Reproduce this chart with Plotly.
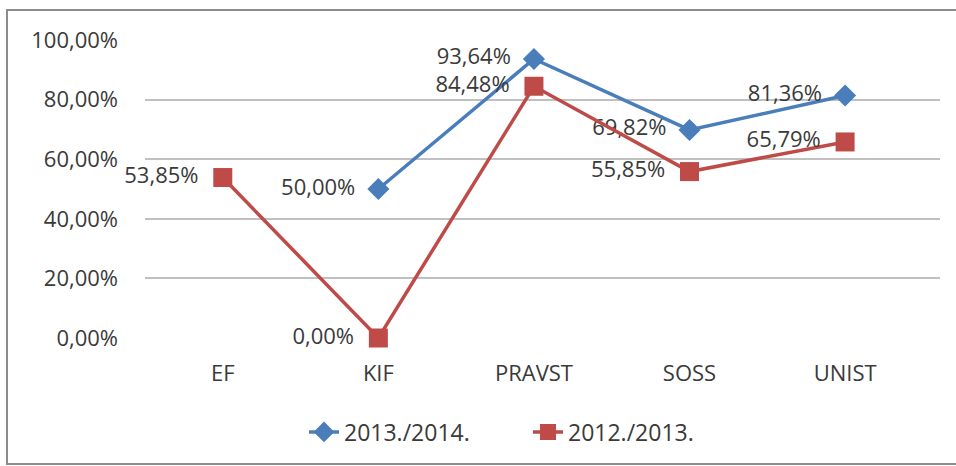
import plotly.graph_objects as go

categories = ["EF", "KIF", "PRAVST", "SOSS", "UNIST"]
series_2013_2014 = [None, 50.00, 93.64, 69.82, 81.36]
series_2012_2013 = [53.85, 0.00, 84.48, 55.85, 65.79]
y_tick_vals = [0, 20, 40, 60, 80, 100]
y_tick_text = ["0,00%", "20,00%", "40,00%", "60,00%", "80,00%", "100,00%"]

def fmt(v):
    return "" if v is None else f"{v:.2f}".replace(".", ",") + "%\u00a0\u00a0"

FONT = "Open Sans"
FS = 22
TXT = "#3a3a3a"
BLUE = "#4a7ebb"
RED = "#be4b48"

W, H = 956, 466
L, R, T, B = 145, 16, 40, 128
pw, ph = W - L - R, H - T - B

def px(x):
    return (x - L) / pw

def py(y):
    return (H - B - y) / ph

fig = go.Figure()
fig.add_trace(go.Scatter(
    x=categories, y=series_2013_2014, name="2013./2014.",
    mode="lines+markers+text",
    line=dict(color=BLUE, width=3.5),
    marker=dict(symbol="diamond", size=17, color=BLUE),
    text=[fmt(v) for v in series_2013_2014], textposition="middle left",
    textfont=dict(family=FONT, size=FS, color=TXT),
    cliponaxis=False, connectgaps=False,
))
fig.add_trace(go.Scatter(
    x=categories, y=series_2012_2013, name="2012./2013.",
    mode="lines+markers+text",
    line=dict(color=RED, width=3.5),
    marker=dict(symbol="square", size=19, color=RED),
    text=[fmt(v) for v in series_2012_2013], textposition="middle left",
    textfont=dict(family=FONT, size=FS, color=TXT),
    cliponaxis=False,
))

fig.update_layout(
    width=W, height=H,
    margin=dict(l=L, r=R, t=T, b=B),
    paper_bgcolor="white", plot_bgcolor="white",
    font=dict(family=FONT, size=FS, color=TXT),
    showlegend=True,
    legend=dict(orientation="h", x=px(304), xanchor="left", y=py(432), yanchor="middle",
                entrywidth=179, entrywidthmode="pixels",
                font=dict(family=FONT, size=FS + 1, color=TXT),
                bgcolor="rgba(0,0,0,0)"),
    xaxis=dict(range=[-0.5, 4.61], showgrid=False, showline=False, zeroline=False, ticks="",
               ticklabelstandoff=20, tickfont=dict(family=FONT, size=FS, color=TXT)),
    yaxis=dict(range=[0, 100], tickvals=y_tick_vals, ticktext=y_tick_text,
               showgrid=True, gridcolor="#c0c0c0", gridwidth=1.5,
               zeroline=False, showline=False, ticks="",
               ticklabelstandoff=26, tickfont=dict(family=FONT, size=FS, color=TXT)),
    shapes=[dict(type="rect", xref="paper", yref="paper",
                 x0=px(7), x1=px(1000), y0=py(464), y1=py(10),
                 line=dict(color="#8c8c8c", width=2), fillcolor="rgba(0,0,0,0)",
                 layer="below")],
)

fig.write_html("out.html", config={"displayModeBar": False},
               post_script="document.body.style.margin='0';")
